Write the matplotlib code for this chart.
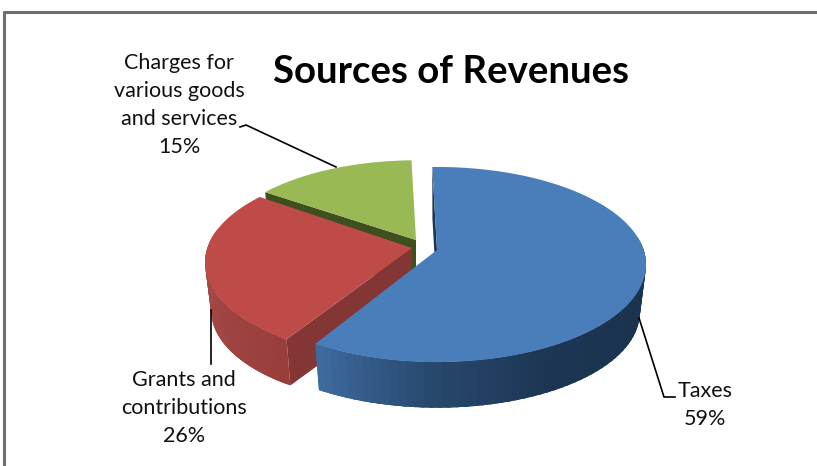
#!/usr/bin/env python3
import numpy as np
import matplotlib
matplotlib.use('Agg')
import matplotlib.pyplot as plt
from matplotlib.colors import to_rgb
from matplotlib.patches import Polygon

categories = ['Taxes', 'Grants and\ncontributions', 'Charges for\nvarious goods\nand services']
values = [59, 26, 15]

top_colors = ['#4a7ebb', '#be4b48', '#98b954']
cut_colors = ['#1b3450', '#843634', '#3f4f20']
# side shading, as (angle clockwise from 12 o'clock, colour)
side_colors = [
    [(90, '#1a334f'), (150, '#1b3552'), (180, '#27476b'), (212, '#3f6da3')],
    [(205, '#983c39'), (240, '#a04542'), (285, '#a84c49')],
    [(300, '#3f4f20'), (360, '#3f4f20')],
]
# apex, size and turn of each exploded slice, in pixels and degrees
apexes = [(437, 250), (412, 248), (416, 240)]
scales = [1, 0.99, 0.96]
turns = [0, 1.5, 0]

A, B, K = 206.7, 95.4, 0.149   # perspective of the pie
DEPTH, BOTTOM = 49, 0.97


def project(i, theta, bottom=False):
    apex = apexes[i]
    theta = np.radians(theta + turns[i])
    x, z = np.sin(theta), np.cos(theta)
    s = scales[i] / (1 + K * z)
    px, py = A * x * s, -B * z * s
    if bottom:
        return apex[0] + BOTTOM * px, apex[1] + DEPTH + BOTTOM * py
    return apex[0] + px, apex[1] + py


def shade(stops, theta):
    angles = [s[0] for s in stops]
    rgb = np.array([to_rgb(s[1]) for s in stops])
    return tuple(np.interp(theta, angles, rgb[:, n]) for n in range(3))


def draw_slice(ax, i, start, end):
    apex = apexes[i]
    thetas = np.linspace(start, end, 100)

    # cut face at the start of the slice
    a_bot = (apex[0], apex[1] + DEPTH)
    ax.add_patch(Polygon([project(i, start), apex, a_bot, project(i, start, True)],
                         fc=cut_colors[i], ec='none'))

    # outer wall, only the part that faces the viewer; the strips overlap so no seams show
    step = thetas[1] - thetas[0]
    for t0 in thetas[:-1]:
        if np.cos(np.radians(t0 + step / 2)) > 0.15:
            continue
        t1 = min(t0 + 2.5 * step, end)
        c = shade(side_colors[i], t0 + step / 2)
        ax.add_patch(Polygon([project(i, t0), project(i, t1),
                              project(i, t1, True), project(i, t0, True)],
                             fc=c, ec='none'))

    # top surface
    outer = [project(i, t) for t in thetas]
    ax.add_patch(Polygon([apex] + outer, fc=top_colors[i], ec='none'))


plt.rcParams['font.family'] = ['Lato', 'DejaVu Sans']
fig = plt.figure(figsize=(8.17, 4.66), dpi=100)
ax = fig.add_axes([0, 0, 1, 1])
ax.set_xlim(0, 817)
ax.set_ylim(466, 0)
ax.axis('off')

# frame of the screenshot
ax.plot([4.5, 4.5, 817], [466, 11.5, 11.5], color='#6e6e6e', lw=2.2, solid_capstyle='butt')

angles = np.array(values) / sum(values) * 360
starts = -1.5 + np.concatenate([[0], np.cumsum(angles)[:-1]])
for i in [2, 1, 0]:
    draw_slice(ax, i, starts[i], starts[i] + angles[i])

ax.text(451, 72, 'Sources of Revenues', fontsize=27.6, fontweight='bold', ha='center', va='center', color='black')

label_pos = [(705, 405), (184, 408), (179, 105)]
for cat, val, pos in zip(categories, values, label_pos):
    ax.text(pos[0], pos[1], f'{cat}\n{val}%', fontsize=15.5, ha='center', va='center',
            linespacing=1.5, color='#111111')

# leader lines
ax.plot([639, 664, 675], [318, 397, 397], color='black', lw=1.2)
ax.plot([211, 211], [310, 364], color='black', lw=1.2)
ax.plot([240, 246, 336], [127, 125, 167], color='black', lw=1.2)

fig.savefig('out.png', dpi=100)
